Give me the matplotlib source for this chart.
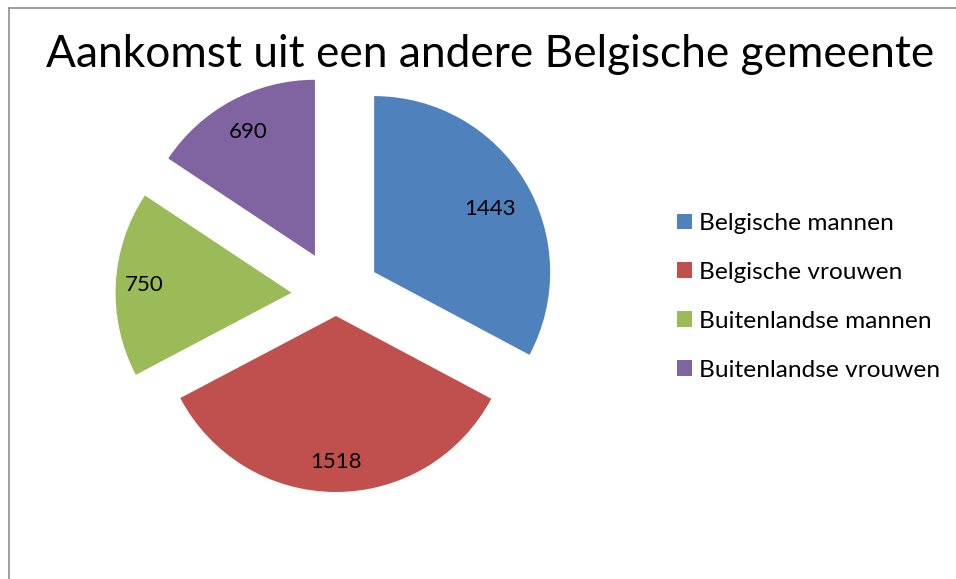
import matplotlib
matplotlib.use("Agg")
import matplotlib.pyplot as plt
from matplotlib.patches import Patch
from matplotlib.lines import Line2D
import numpy as np

title = "Aankomst uit een andere Belgische gemeente"
categories = ["Belgische mannen", "Belgische vrouwen", "Buitenlandse mannen", "Buitenlandse vrouwen"]
values = [1443, 1518, 750, 690]
colors = ["#4F81BD", "#C0504D", "#9BBB59", "#8064A2"]

W, H = 956, 579
plt.rcParams['font.family'] = ['Lato', 'DejaVu Sans']
fig = plt.figure(figsize=(W / 100, H / 100), dpi=100)
ax = fig.add_axes([0, 0, 1, 1])

R = 176
explode = [44.5, 21, 44.5, 44.5]
wedges, _ = ax.pie(values, colors=colors, explode=explode, startangle=90,
                   counterclock=False, radius=R, center=(336, H - 295),
                   frame=False, wedgeprops=dict(linewidth=0))
ax.set_xlim(0, W)
ax.set_ylim(0, H)
ax.set_aspect('auto')
ax.axis('off')

label_dist = [0.75, 0.83, 0.84, 0.80]
label_rot = [-2.5, 0, 0, 0]
for w, v, d, r in zip(wedges, values, label_dist, label_rot):
    ang = np.deg2rad((w.theta1 + w.theta2) / 2 + r)
    cx, cy = w.center
    ax.text(cx + d * R * np.cos(ang), cy + d * R * np.sin(ang), str(v),
            ha='center', va='center', fontsize=16, color='black')

fig.text(490 / W, 1 - 67 / H, title, ha='center', va='baseline', fontsize=31.9, color='black')

handles = [Patch(facecolor=c, edgecolor='none') for c in colors]
fig.legend(handles, categories, loc='upper left', bbox_to_anchor=(677 / W, 1 - 213 / H),
           frameon=False, fontsize=17.6, handlelength=0.61, handleheight=0.61,
           handletextpad=0.29, labelspacing=1.14, borderpad=0, borderaxespad=0)

border = '#8f8f8f'
fig.add_artist(Line2D([8.5 / W, 1], [1 - 7.5 / H, 1 - 7.5 / H], transform=fig.transFigure, color=border, lw=1.2))
fig.add_artist(Line2D([8.5 / W, 8.5 / W], [0, 1 - 7.5 / H], transform=fig.transFigure, color=border, lw=1.2))

fig.savefig("out.png", dpi=100, facecolor='white')
